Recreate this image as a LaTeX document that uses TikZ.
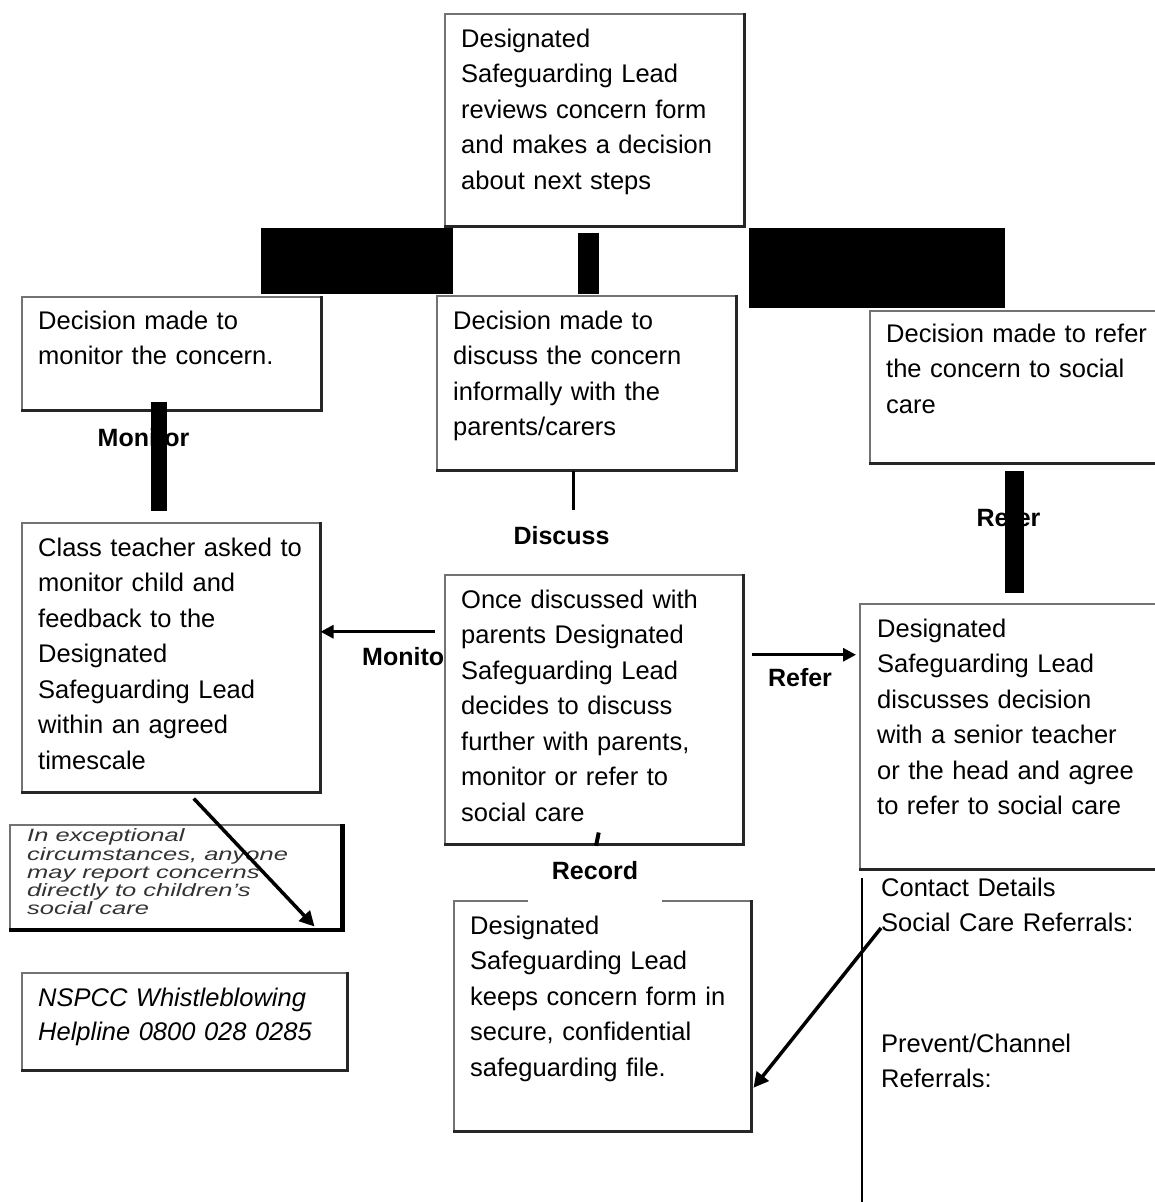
\documentclass[tikz,border=0pt]{standalone}
\usepackage{fontspec}
\setmainfont{Liberation Sans}
\usetikzlibrary{arrows.meta}
\begin{document}
\begin{tikzpicture}[x=1pt,y=-1pt,
  bx/.style={draw=black!55, line width=1.5pt, fill=white, anchor=north west, inner sep=0pt},
  shadowedge/.style={draw=black!85, line width=2.5pt},
  tx/.style={anchor=north west, inner sep=0pt, text width=330pt, align=left, font=\fontsize{25.5}{35.5}\selectfont},
  lbl/.style={font=\bfseries\fontsize{25}{30}\selectfont, inner sep=0pt},
  blk/.style={fill=black, inner sep=0pt, anchor=north west},
  conn/.style={line width=3pt},
  arr/.style={line width=3pt, -{Triangle[length=13pt,width=13pt]}},
  darr/.style={line width=3.5pt, -{Triangle[length=15pt,width=15pt]}}
]
\useasboundingbox (0,0) rectangle (1155,1202);

% ---- boxes ----
\node[bx, minimum width=299pt, minimum height=212pt] (b1) at (444,13) {};
\node[bx, minimum width=299pt, minimum height=113pt] (b2) at (21,296) {};
\node[bx, minimum width=299pt, minimum height=174pt] (b3) at (436,295) {};
\node[bx, minimum width=292pt, minimum height=152pt] (b4) at (869,310) {};
\node[bx, minimum width=298pt, minimum height=269pt] (b5) at (21,522) {};
\node[bx, minimum width=298pt, minimum height=269pt] (b6) at (444,574) {};
\node[bx, minimum width=302pt, minimum height=265pt] (b7) at (859,603) {};
\node[bx, minimum width=297pt, minimum height=230pt] (b8) at (453,900) {};
\node[bx, minimum width=334pt, minimum height=104pt] (exc) at (9,824) {};
\node[bx, minimum width=325pt, minimum height=97pt] (nsp) at (21,972) {};

\foreach \b in {b1,b2,b3,b4,b5,b6,b7,b8,nsp}
  \draw[shadowedge] (\b.north east) -- (\b.south east) -- (\b.south west);
\draw[draw=black, line width=5pt] ([xshift=-2.5]exc.north east) -- ([xshift=-2.5]exc.south east);
\draw[draw=black, line width=4pt] (exc.south west) -- (exc.south east);

% ---- texts ----
\node[tx] (t1) at (461,22) {\strut Designated\\Safeguarding Lead\\reviews concern form\\and makes a decision\\about next steps};
\node[tx] (t2) at (38,304) {\strut Decision made to\\monitor the concern.};
\node[tx] (t3) at (453,304) {\strut Decision made to\\discuss the concern\\informally with the\\parents/carers};
\node[tx] (t4) at (886,317) {\strut Decision made to refer\\the concern to social\\care};
\node[tx] (t5) at (38,531) {\strut Class teacher asked to\\monitor child and\\feedback to the\\Designated\\Safeguarding Lead\\within an agreed\\timescale};
\node[tx] (t6) at (461,583) {\strut Once discussed with\\parents Designated\\Safeguarding Lead\\decides to discuss\\further with parents,\\monitor or refer to\\social care};
\node[tx] (t7) at (877,612) {\strut Designated\\Safeguarding Lead\\discusses decision\\with a senior teacher\\or the head and agree\\to refer to social care};
\node[tx] (t8) at (470,909) {\strut Designated\\Safeguarding Lead\\keeps concern form in\\secure, confidential\\safeguarding file.};
\node[anchor=north west, inner sep=0pt, text=black!80] (tx9) at (27,828)
  {\scalebox{1}[0.7]{\parbox[t]{310pt}{\fontsize{25.5}{25.7}\selectfont\itshape\strut In exceptional\\circumstances, anyone\\may report concerns\\directly to children's\\social care}}};
\node[tx, font=\fontsize{25.5}{34}\selectfont\itshape] (t10) at (38,982) {\strut NSPCC Whistleblowing\\Helpline 0800 028 0285};
\node[tx, font=\fontsize{25.5}{35}\selectfont] (c1) at (881,871.5) {\strut Contact Details\\Social Care Referrals:};
\node[tx, font=\fontsize{25.5}{35}\selectfont] (c2) at (881,1027.5) {\strut Prevent/Channel\\Referrals:};
\draw[line width=2.5pt] (862,878) -- (862,1202);

% ---- labels ----
\node[lbl] (lmon) at (143.5,438) {Monitor};
\node[lbl] (lref) at (1008.5,518) {Refer};
\node[lbl, minimum height=52pt] (dis) at (561.5,536) {Discuss};
\node[lbl, anchor=west] (lmon2) at (362,657) {Monito};
\node[lbl] (lref2) at (800,678) {Refer};
\node[lbl, fill=white, minimum width=134pt, minimum height=56pt, text height=18pt, text depth=8pt] (rec) at (595,874) {Record};

% ---- black blocks / thick bars ----
\node[blk, minimum width=192pt, minimum height=66pt] (r1) at (261,228) {};
\node[blk, minimum width=256pt, minimum height=80pt] (r3) at (749,228) {};
\draw[line width=21pt] ([shift={(-6,6)}]b1.south) -- ([shift={(2,-1)}]b3.north);
\draw[line width=16pt] ([shift={(-12.5,-9)}]b2.south) -- ([shift={(-12,-11)}]b5.north);
\draw[line width=19pt] ([shift={(-1.5,7)}]b4.south) -- ([shift={(3.5,-10)}]b7.north);

% ---- connectors ----
\draw[conn] ([xshift=-12.5]b3.south) -- ([xshift=-12.5]b3.south |- dis.north);
\draw[arr] ([shift={(-9,-77.5)}]b6.west) -- ([shift={(0,-25.5)}]b5.east);
\draw[arr] ([shift={(8,-54.5)}]b6.east) -- ([shift={(-3,-81.5)}]b7.west);
\draw[line width=4pt] ([shift={(5,-12)}]b6.south) -- ([shift={(1,0)}]rec.north);
\draw[darr] ([shift={(23,6)}]b5.south) -- ([shift={(-30,-3)}]exc.south east);
\draw[darr] ([shift={(0,56.5)}]c1.north west) -- ([shift={(2,72)}]b8.east);
\end{tikzpicture}
\end{document}
